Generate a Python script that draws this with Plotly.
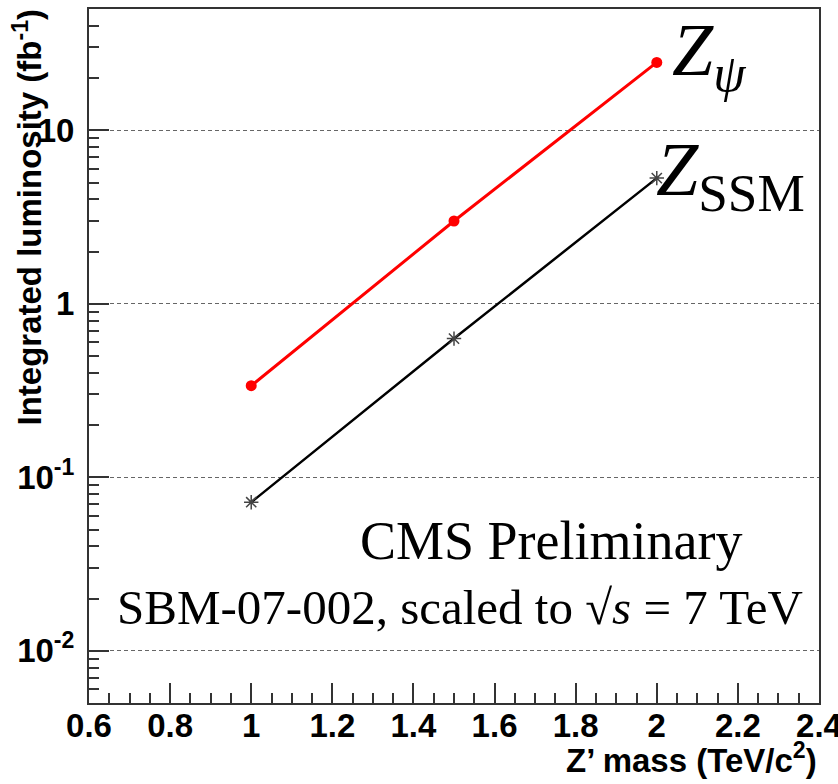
import plotly.graph_objects as go

# ---- data ----
mass = [1.0, 1.5, 2.0]                 # Z' mass (TeV/c^2)
lumi_psi = [0.337, 3.0, 24.6]          # Z_psi  integrated luminosity (fb^-1)
lumi_ssm = [0.0718, 0.63, 5.3]         # Z_SSM  integrated luminosity (fb^-1)

x_tickvals = [0.6, 0.8, 1.0, 1.2, 1.4, 1.6, 1.8, 2.0, 2.2, 2.4]
x_ticktext = ["0.6", "0.8", "1", "1.2", "1.4", "1.6", "1.8", "2", "2.2", "2.4"]
y_tickvals = [0.01, 0.1, 1, 10]
y_ticktext = ["10<sup>-2</sup>", "10<sup>-1</sup>", "1", "10"]

W, H = 838, 784
L, R, T, B = 89, 19, 9, 81
PW, PH = W - L - R, H - T - B


def px(xp):
    return (xp - L) / PW


def py(yp):
    return (H - B - yp) / PH


y_minor = [m * 10 ** e for e in range(-3, 2) for m in range(2, 10)]

fig = go.Figure()
fig.add_trace(go.Scatter(
    x=mass, y=lumi_psi, mode="lines+markers",
    line=dict(color="#ff0000", width=3),
    marker=dict(symbol="circle", size=11, color="#ff0000"),
    showlegend=False))
fig.add_trace(go.Scatter(
    x=mass, y=lumi_ssm, mode="lines+markers",
    line=dict(color="#000000", width=2.5),
    marker=dict(symbol="asterisk-open", size=12, color="#444444",
                line=dict(color="#444444", width=1.5)),
    showlegend=False))

tickfont = dict(family="Liberation Sans, Arial, sans-serif", size=33,
                color="black", weight="bold")

fig.update_layout(
    width=W, height=H,
    margin=dict(l=L, r=R, t=T, b=B, pad=0, autoexpand=False),
    paper_bgcolor="white", plot_bgcolor="white",
    xaxis=dict(
        range=[0.6, 2.4], tickmode="array", tickvals=x_tickvals, ticktext=x_ticktext,
        ticks="inside", ticklen=20, tickwidth=1.5, tickcolor="#333",
        minor=dict(dtick=0.05, ticks="inside", ticklen=10, tickwidth=1.5,
                   tickcolor="#333", showgrid=False),
        showgrid=False, zeroline=False, automargin=False,
        showline=True, linecolor="#333", linewidth=2, mirror=True,
        tickfont=tickfont, ticklabelstandoff=-8, ticklabeloverflow="allow"),
    yaxis=dict(
        type="log", range=[-2.30103, 1.69897],
        tickmode="array", tickvals=y_tickvals, ticktext=y_ticktext,
        ticks="inside", ticklen=20, tickwidth=1.5, tickcolor="#333",
        minor=dict(tickmode="array", tickvals=y_minor, ticks="inside", ticklen=10,
                   tickwidth=1.5, tickcolor="#333", showgrid=False),
        showgrid=True, gridcolor="#666666", gridwidth=1.3, griddash="4px,3px",
        zeroline=False, automargin=False,
        showline=True, linecolor="#333", linewidth=2, mirror=True,
        tickfont=tickfont, ticklabelstandoff=6, ticklabeloverflow="allow"),
)

serif = "Liberation Serif, Times New Roman, serif"
ann = [
    dict(text="<i>Z</i><sub><i>ψ</i></sub>", x=px(670), y=py(56),
         xanchor="left", yanchor="middle", font=dict(family=serif, size=74)),
    dict(text="<i>Z</i><sub>SSM</sub>", x=px(654), y=py(175),
         xanchor="left", yanchor="middle", font=dict(family=serif, size=76)),
    dict(text="CMS Preliminary", x=px(551), y=py(541),
         xanchor="center", yanchor="middle", font=dict(family=serif, size=54)),
    dict(text="SBM-07-002, scaled to √<i>s</i> = 7 TeV", x=px(460), y=py(607),
         xanchor="center", yanchor="middle", font=dict(family=serif, size=49)),
    dict(text="Z’ mass (TeV/c<sup>2</sup>)", x=px(819), y=py(758),
         xanchor="right", yanchor="middle",
         font=dict(family="Liberation Sans, Arial, sans-serif", size=33,
                   color="black", weight="bold")),
    dict(text="Integrated luminosity (fb<sup>-1</sup>)", x=px(28), y=py(7),
         xanchor="center", yanchor="top", textangle=-90,
         font=dict(family="Liberation Sans, Arial, sans-serif", size=33,
                   color="black", weight="bold")),
]
for a in ann:
    a.setdefault("font", {})
    a["font"].setdefault("color", "black")
    fig.add_annotation(xref="paper", yref="paper", showarrow=False, **a)

fig.write_html("out.html")
